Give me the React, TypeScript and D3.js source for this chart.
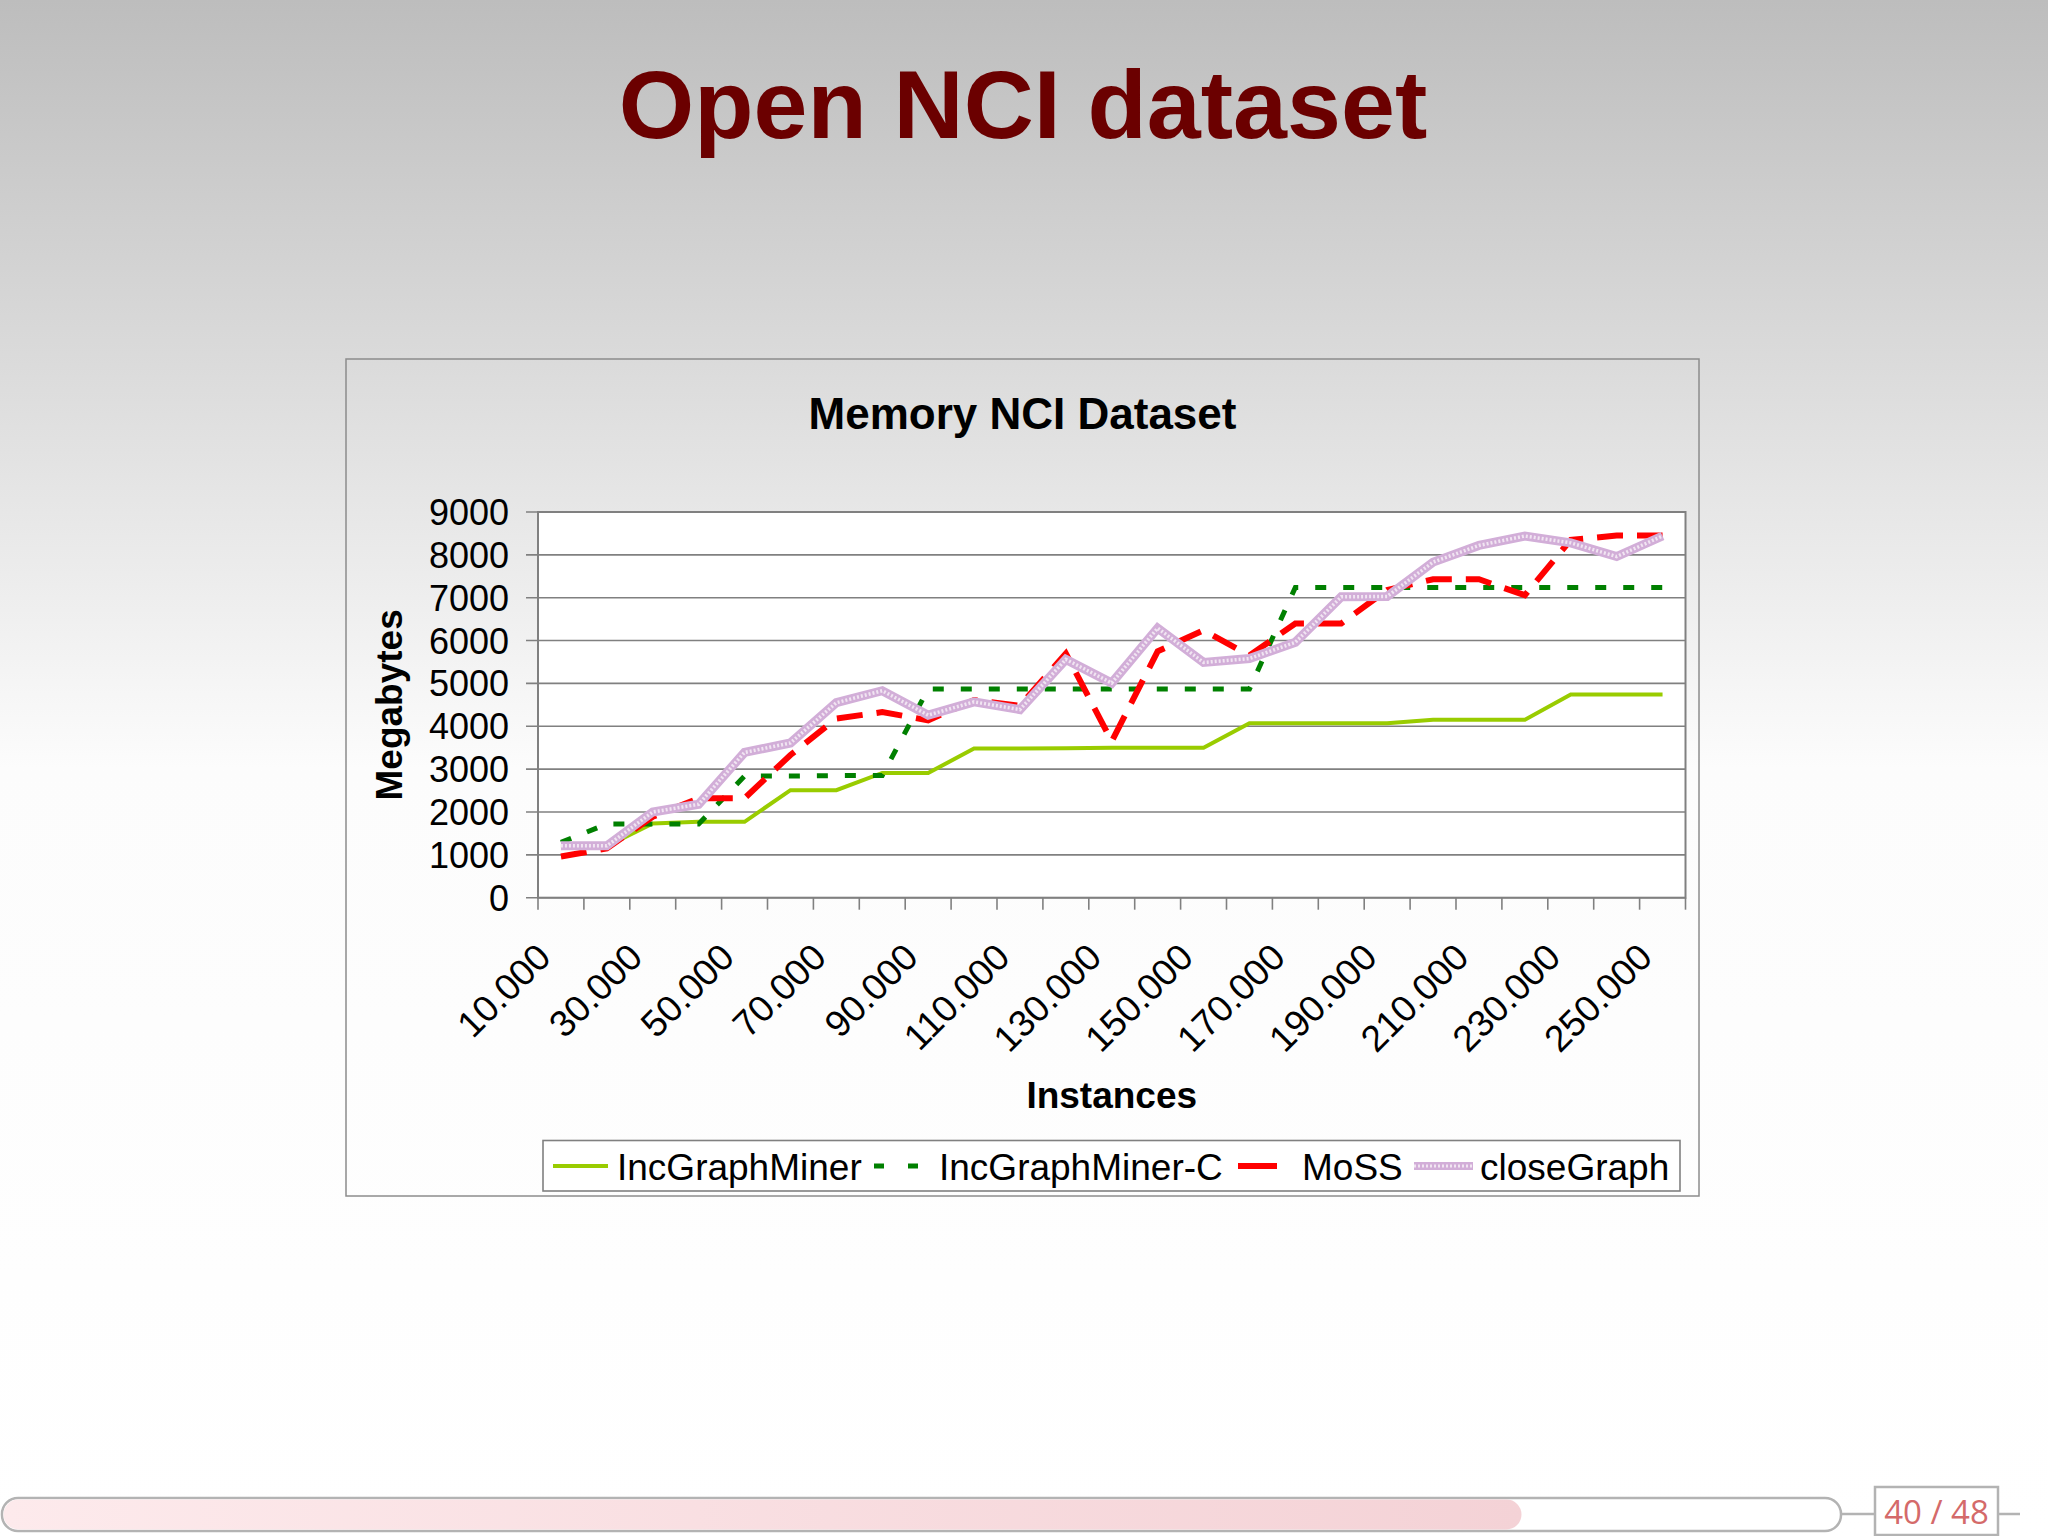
import { scaleBand, scaleLinear, line as d3_line } from "d3";

// Instances (x categories), 10.000 .. 250.000
const categories = [
  "10.000", "20.000", "30.000", "40.000", "50.000", "60.000", "70.000",
  "80.000", "90.000", "100.000", "110.000", "120.000", "130.000", "140.000",
  "150.000", "160.000", "170.000", "180.000", "190.000", "200.000",
  "210.000", "220.000", "230.000", "240.000", "250.000",
];

// Megabytes per series
const incGraphMiner = [
  1200, 1200, 1730, 1770, 1770, 2510, 2510, 2910, 2910, 3480, 3480, 3490,
  3500, 3500, 3500, 4070, 4070, 4070, 4070, 4150, 4150, 4150, 4740, 4740, 4740,
];
const incGraphMinerC = [
  1290, 1720, 1720, 1720, 2840, 2840, 2850, 2850, 4870, 4870, 4870, 4870,
  4870, 4870, 4870, 4870, 7240, 7240, 7240, 7240, 7240, 7240, 7240, 7240, 7240,
];
const moss = [
  960, 1150, 1890, 2320, 2320, 3330, 4180, 4330, 4140, 4610, 4480, 5700,
  3650, 5750, 6240, 5650, 6400, 6400, 7180, 7430, 7430, 7060, 8350, 8450, 8450,
];
const closeGraph = [
  1210, 1210, 2000, 2180, 3390, 3610, 4550, 4830, 4260, 4570, 4390, 5560,
  5010, 6290, 5490, 5580, 5960, 7020, 7030, 7830, 8220, 8440, 8280, 7960, 8440,
];

const yTicks = [0, 1000, 2000, 3000, 4000, 5000, 6000, 7000, 8000, 9000];

const seriesNames = ["IncGraphMiner", "IncGraphMiner-C", "MoSS", "closeGraph"];
const seriesValues = [incGraphMiner, incGraphMinerC, moss, closeGraph];

const W = 2048;
const H = 1536;
const FONT = "'Liberation Sans', Arial, Helvetica, sans-serif";

// plot area
const plot = { left: 538, right: 1685.5, top: 512, bottom: 897.7 };

// per-series look: chart stroke + legend sample placement
const styles = [
  { color: "#99cc00", width: 4, dash: undefined, legendDash: undefined, lx0: 553, lx1: 608, tx: 617 },
  { color: "#008000", width: 5, dash: "11,17", legendDash: "10,24", lx0: 874, lx1: 918, tx: 939 },
  { color: "#ff0000", width: 6, dash: "26,14", legendDash: undefined, lx0: 1238, lx1: 1277, tx: 1302 },
  { color: "#d2aed8", width: 9, dash: undefined, legendDash: undefined, lx0: 1414, lx1: 1473, tx: 1480 },
];
const TEXTURE = "#f1e5f2";

export default function App() {
  const x = scaleBand<string>()
    .domain(categories)
    .range([plot.left, plot.right])
    .paddingInner(0)
    .paddingOuter(0);
  const y = scaleLinear().domain([0, 9000]).range([plot.bottom, plot.top]);

  const cx = (c: string) => (x(c) as number) + x.bandwidth() / 2;

  const line = d3_line<number>()
    .x((_, i) => cx(categories[i]))
    .y((d) => y(d));

  const boundaries = categories.map((c) => x(c) as number).concat([plot.right]);

  return (
    <svg
      width={W}
      height={H}
      viewBox={`0 0 ${W} ${H}`}
      style={{ position: "absolute", left: 0, top: 0, fontFamily: FONT }}
    >
      <defs>
        <linearGradient id="bg" x1="0" y1="0" x2="0" y2="1">
          <stop offset="0" stopColor="#bdbdbd" />
          <stop offset="0.5" stopColor="#fcfcfc" />
          <stop offset="1" stopColor="#ffffff" />
        </linearGradient>
        <linearGradient id="prog" x1="0" y1="0" x2="1" y2="0">
          <stop offset="0" stopColor="#fdeaec" />
          <stop offset="1" stopColor="#f4d2d6" />
        </linearGradient>
      </defs>

      {/* slide background */}
      <rect x={0} y={0} width={W} height={H} fill="url(#bg)" />

      {/* slide title */}
      <text
        x={1023}
        y={138}
        textAnchor="middle"
        fontSize={97}
        fontWeight="bold"
        fill="#6b0000"
      >
        Open NCI dataset
      </text>

      {/* chart box */}
      <rect x={346} y={359} width={1353} height={837} fill="none" stroke="#8c8c8c" strokeWidth={1.5} />

      <text x={1022.5} y={429} textAnchor="middle" fontSize={44} fontWeight="bold" fill="#000">
        Memory NCI Dataset
      </text>

      {/* plot area */}
      <rect
        x={plot.left}
        y={plot.top}
        width={plot.right - plot.left}
        height={plot.bottom - plot.top}
        fill="#ffffff"
      />

      {/* grid lines + y ticks */}
      {yTicks.map((t) => (
        <g key={t}>
          <line x1={plot.left - 12} x2={plot.right} y1={y(t)} y2={y(t)} stroke="#808080" strokeWidth={1.6} />
          <text x={509} y={y(t)} dy="0.36em" textAnchor="end" fontSize={36} fill="#000">
            {t}
          </text>
        </g>
      ))}

      {/* plot border */}
      <rect
        x={plot.left}
        y={plot.top}
        width={plot.right - plot.left}
        height={plot.bottom - plot.top}
        fill="none"
        stroke="#808080"
        strokeWidth={2}
      />

      {/* x ticks */}
      {boundaries.map((bx, i) => (
        <line key={i} x1={bx} x2={bx} y1={plot.bottom} y2={plot.bottom + 12} stroke="#808080" strokeWidth={1.6} />
      ))}
      {categories.map((c, i) =>
        i % 2 === 0 ? (
          <text
            key={c}
            transform={`translate(${cx(c) - 27},${plot.bottom + 43}) rotate(-45)`}
            dy="0.72em"
            textAnchor="end"
            fontSize={37}
            fill="#000"
          >
            {c}
          </text>
        ) : null
      )}

      {/* axis titles */}
      <text
        transform={`translate(402,${(plot.top + plot.bottom) / 2}) rotate(-90)`}
        textAnchor="middle"
        fontSize={37}
        fontWeight="bold"
        fill="#000"
      >
        Megabytes
      </text>
      <text x={(plot.left + plot.right) / 2} y={1108} textAnchor="middle" fontSize={37} fontWeight="bold" fill="#000">
        Instances
      </text>

      {/* series */}
      {seriesValues.map((vals, i) => {
        const st = styles[i];
        const d = line(vals) || "";
        return (
          <g key={seriesNames[i]}>
            <path
              d={d}
              fill="none"
              stroke={st.color}
              strokeWidth={st.width}
              strokeDasharray={st.dash}
              strokeLinejoin="miter"
            />
            {i === 3 && (
              <path d={d} fill="none" stroke={TEXTURE} strokeWidth={3.5} strokeDasharray="2,2" />
            )}
          </g>
        );
      })}

      {/* legend */}
      <rect x={543} y={1140.5} width={1137} height={50.5} fill="#ffffff" stroke="#808080" strokeWidth={1.6} />
      {seriesNames.map((name, i) => {
        const st = styles[i];
        return (
          <g key={name}>
            <line
              x1={st.lx0}
              x2={st.lx1}
              y1={1166}
              y2={1166}
              stroke={st.color}
              strokeWidth={i === 3 ? 8 : st.width}
              strokeDasharray={st.legendDash}
            />
            {i === 3 && (
              <line x1={st.lx0} x2={st.lx1} y1={1166} y2={1166} stroke={TEXTURE} strokeWidth={3} strokeDasharray="2,2" />
            )}
            <text x={st.tx} y={1180} fontSize={37} fill="#000">
              {name}
            </text>
          </g>
        );
      })}

      {/* footer progress bar */}
      <rect x={2} y={1498} width={1839} height={33} rx={16} fill="#ffffff" stroke="#b3b3b3" strokeWidth={2.5} />
      <rect x={3.5} y={1499.5} width={1518} height={30} rx={15} fill="url(#prog)" />
      <line x1={1841} x2={1875} y1={1514} y2={1514} stroke="#b3b3b3" strokeWidth={2.5} />
      <line x1={1998} x2={2020} y1={1514} y2={1514} stroke="#b3b3b3" strokeWidth={2.5} />
      <rect x={1875} y={1487} width={123} height={48} fill="#ffffff" stroke="#b3b3b3" strokeWidth={2.5} />
      <text
        x={1936.5}
        y={1524}
        textAnchor="middle"
        fontSize={33}
        fill="#d46a6a"
        fontFamily="'Open Sans', 'DejaVu Sans', sans-serif"
      >
        40 / 48
      </text>
    </svg>
  );
}
